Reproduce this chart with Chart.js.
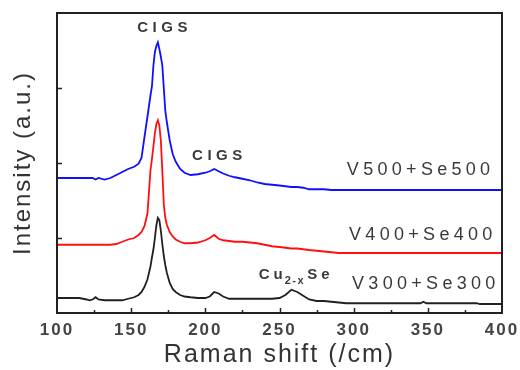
<!DOCTYPE html>
<html>
<head>
<meta charset="utf-8">
<script src="https://cdn.jsdelivr.net/npm/chart.js@4.4.1/dist/chart.umd.min.js"></script>
<style>
    html, body { margin: 0; padding: 0; background: #ffffff; }
    #ramanChart { display: block; }
</style>
</head>
<body>
<canvas id="ramanChart" width="520" height="370"></canvas>
<script>
// Raman shift positions (/cm), shared by all three spectra
const shiftValues = [100, 105, 110, 115, 120, 122, 124, 126, 128, 132, 136, 140, 144, 148, 152, 155, 157, 159, 161, 163,
    164, 165, 166, 167, 168, 169, 170, 171, 172, 173, 174, 176, 178, 180, 183, 186, 190, 195, 200, 203,
    206, 209, 212, 216, 220, 225, 230, 235, 240, 245, 250, 254, 258, 262, 266, 270, 275, 280, 285, 290,
    295, 300, 310, 320, 330, 340, 345, 347, 349, 355, 365, 375, 383, 385, 390, 400];

// Intensity (offset stacked, a.u.)
const intensityV300 = [0.20, 0.20, 0.20, 0.20, 0.18, 0.17, 0.18, 0.21, 0.18, 0.17, 0.17, 0.17, 0.17, 0.19, 0.21, 0.24, 0.28, 0.35, 0.45, 0.62,
    0.74, 0.85, 1.00, 1.17, 1.27, 1.24, 1.10, 0.92, 0.76, 0.64, 0.54, 0.40, 0.32, 0.28, 0.24, 0.22, 0.21, 0.20, 0.20, 0.22,
    0.28, 0.26, 0.22, 0.19, 0.19, 0.19, 0.19, 0.19, 0.19, 0.19, 0.20, 0.24, 0.31, 0.28, 0.23, 0.18, 0.16, 0.16, 0.15, 0.14,
    0.13, 0.13, 0.13, 0.13, 0.13, 0.13, 0.13, 0.15, 0.13, 0.13, 0.13, 0.13, 0.13, 0.12, 0.12, 0.12];

const intensityV400 = [0.91, 0.91, 0.91, 0.91, 0.91, 0.91, 0.91, 0.91, 0.91, 0.91, 0.91, 0.92, 0.95, 0.98, 1.00, 1.04, 1.08, 1.16, 1.33, 1.90,
    2.05, 2.22, 2.40, 2.52, 2.57, 2.50, 2.30, 1.90, 1.45, 1.27, 1.18, 1.08, 1.02, 0.98, 0.95, 0.93, 0.93, 0.94, 0.97, 1.00,
    1.04, 0.99, 0.97, 0.96, 0.95, 0.95, 0.94, 0.93, 0.91, 0.89, 0.88, 0.87, 0.86, 0.86, 0.85, 0.84, 0.83, 0.82, 0.81, 0.80,
    0.80, 0.80, 0.80, 0.80, 0.80, 0.80, 0.80, 0.80, 0.80, 0.80, 0.80, 0.80, 0.80, 0.80, 0.80, 0.80];

const intensityV500 = [1.80, 1.80, 1.80, 1.80, 1.80, 1.80, 1.80, 1.78, 1.80, 1.78, 1.80, 1.84, 1.88, 1.92, 1.95, 1.99, 2.07, 2.35, 2.62, 2.90,
    3.02, 3.30, 3.48, 3.56, 3.61, 3.52, 3.42, 3.30, 3.00, 2.70, 2.55, 2.30, 2.12, 2.02, 1.92, 1.87, 1.84, 1.85, 1.87, 1.89,
    1.92, 1.89, 1.86, 1.83, 1.81, 1.79, 1.77, 1.74, 1.72, 1.71, 1.70, 1.69, 1.68, 1.68, 1.67, 1.65, 1.65, 1.65, 1.64, 1.64,
    1.64, 1.64, 1.64, 1.64, 1.64, 1.64, 1.64, 1.64, 1.64, 1.64, 1.64, 1.64, 1.64, 1.64, 1.64, 1.64];

// Axis ranges and tick spacing
const xTickMin = 100;
const xTickMax = 400;
const xTickStep = 50;
const yTickMax = 4;

// Sample labels (right aligned, anchored in data units)
const sampleNames = ['V500+Se500', 'V400+Se400', 'V300+Se300'];
const sampleLabelX = [392, 393.5, 395.5];
const sampleLabelY = [1.91, 1.04, 0.39];

// Peak labels (centered, anchored in data units)
const peakNames = ['CIGS', 'CIGS'];
const peakLabelX = [171, 208];
const peakLabelY = [3.8, 2.09];

// Cu2-xSe label anchor (left edge, baseline)
const cuLabelX = 236;
const cuLabelY = 0.46;

const FONT = "'Liberation Sans', Arial, sans-serif";

/**
 * Build {x, y} points for one spectrum
 */
function toPoints(values) {
    return shiftValues.map((x, i) => ({ x: x, y: values[i] }));
}

/**
 * Draw text with letter spacing, returns the advance width
 */
function spacedText(ctx, text, x, y, spacing) {
    ctx.letterSpacing = spacing + 'px';
    ctx.fillText(text, x, y);
    return ctx.measureText(text).width;
}

/**
 * Frame, inward ticks and text labels
 */
const framePlugin = {
    id: 'frame',
    beforeDraw(chart) {
        // widen the axis text a little, like the original
        chart.ctx.letterSpacing = '2px';
    },
    afterDatasetsDraw(chart) {
        const { ctx, chartArea: area, scales } = chart;
        ctx.save();
        ctx.strokeStyle = '#222';
        ctx.lineWidth = 2;
        ctx.strokeRect(area.left, area.top, area.right - area.left, area.bottom - area.top);

        // x ticks: majors every 50, minors in between
        ctx.lineWidth = 1.5;
        ctx.beginPath();
        for (let v = xTickMin + xTickStep / 2; v < xTickMax; v += xTickStep / 2) {
            const px = Math.round(scales.x.getPixelForValue(v)) + 0.5;
            const len = (v % xTickStep === 0) ? 5 : 3;
            ctx.moveTo(px, area.bottom);
            ctx.lineTo(px, area.bottom - len);
        }
        // y ticks
        for (let v = 1; v < yTickMax; v++) {
            const py = Math.round(scales.y.getPixelForValue(v)) + 0.5;
            ctx.moveTo(area.left, py);
            ctx.lineTo(area.left + 5, py);
        }
        ctx.stroke();
        ctx.restore();
    },
    afterDraw(chart) {
        const { ctx, scales } = chart;
        ctx.save();
        ctx.fillStyle = '#3a3a3a';

        // sample names
        ctx.font = '18px ' + FONT;
        ctx.textBaseline = 'middle';
        ctx.textAlign = 'left';
        sampleNames.forEach((name, i) => {
            ctx.letterSpacing = '4.3px';
            const w = ctx.measureText(name).width - 4.3;
            const right = scales.x.getPixelForValue(sampleLabelX[i]);
            spacedText(ctx, name, right - w, scales.y.getPixelForValue(sampleLabelY[i]), 4.3);
        });

        // peak names
        ctx.font = 'bold 15px ' + FONT;
        peakNames.forEach((name, i) => {
            ctx.letterSpacing = '4.5px';
            const w = ctx.measureText(name).width - 4.5;
            const cx = scales.x.getPixelForValue(peakLabelX[i]);
            spacedText(ctx, name, cx - w / 2, scales.y.getPixelForValue(peakLabelY[i]), 4.5);
        });

        // Cu2-xSe with subscript
        ctx.textBaseline = 'alphabetic';
        let x = scales.x.getPixelForValue(cuLabelX);
        const base = scales.y.getPixelForValue(cuLabelY);
        ctx.font = 'bold 15px ' + FONT;
        x += spacedText(ctx, 'Cu', x, base, 4);
        ctx.font = 'bold 11px ' + FONT;
        x += spacedText(ctx, '2-x', x - 2, base + 5, 1.5);
        ctx.font = 'bold 15px ' + FONT;
        spacedText(ctx, 'Se', x, base, 4);

        ctx.restore();
    }
};

/**
 * Create the Raman chart
 */
function initChart() {
    const ctx = document.getElementById('ramanChart').getContext('2d');
    new Chart(ctx, {
        type: 'line',
        data: {
            datasets: [
                { label: 'V500+Se500', data: toPoints(intensityV500), borderColor: '#1010ff' },
                { label: 'V400+Se400', data: toPoints(intensityV400), borderColor: '#ff1010' },
                { label: 'V300+Se300', data: toPoints(intensityV300), borderColor: '#202020' }
            ]
        },
        options: {
            responsive: false,
            animation: false,
            devicePixelRatio: 1,
            elements: {
                line: { borderWidth: 1.8, tension: 0, fill: false },
                point: { radius: 0 }
            },
            layout: { padding: { top: 13, right: 18, left: 0, bottom: 0 } },
            plugins: {
                legend: { display: false },
                tooltip: { enabled: false }
            },
            scales: {
                x: {
                    type: 'linear',
                    min: xTickMin,
                    max: xTickMax,
                    grid: { display: false, drawTicks: false },
                    border: { display: false },
                    ticks: {
                        stepSize: xTickStep,
                        maxRotation: 0,
                        autoSkip: false,
                        padding: 7,
                        color: '#444',
                        font: { family: FONT, size: 17, weight: 'bold' }
                    },
                    title: {
                        display: true,
                        text: 'Raman shift (/cm)',
                        color: '#333',
                        font: { family: FONT, size: 25 },
                        padding: { top: 0, bottom: 0 }
                    },
                    afterFit: (scale) => {
                        scale.height = 57;
                        scale.paddingLeft = 0;
                        scale.paddingRight = 0;
                    }
                },
                y: {
                    min: 0,
                    max: yTickMax,
                    grid: { display: false, drawTicks: false },
                    border: { display: false },
                    ticks: { display: false, stepSize: 1 },
                    title: {
                        display: true,
                        text: 'Intensity (a.u.)',
                        color: '#333',
                        font: { family: FONT, size: 24 },
                        padding: { top: 9, bottom: 0 }
                    },
                    afterFit: (scale) => {
                        scale.width = 57;
                        scale.paddingTop = 0;
                        scale.paddingBottom = 0;
                    }
                }
            }
        },
        plugins: [framePlugin]
    });
}

document.addEventListener('DOMContentLoaded', initChart);
</script>
</body>
</html>
